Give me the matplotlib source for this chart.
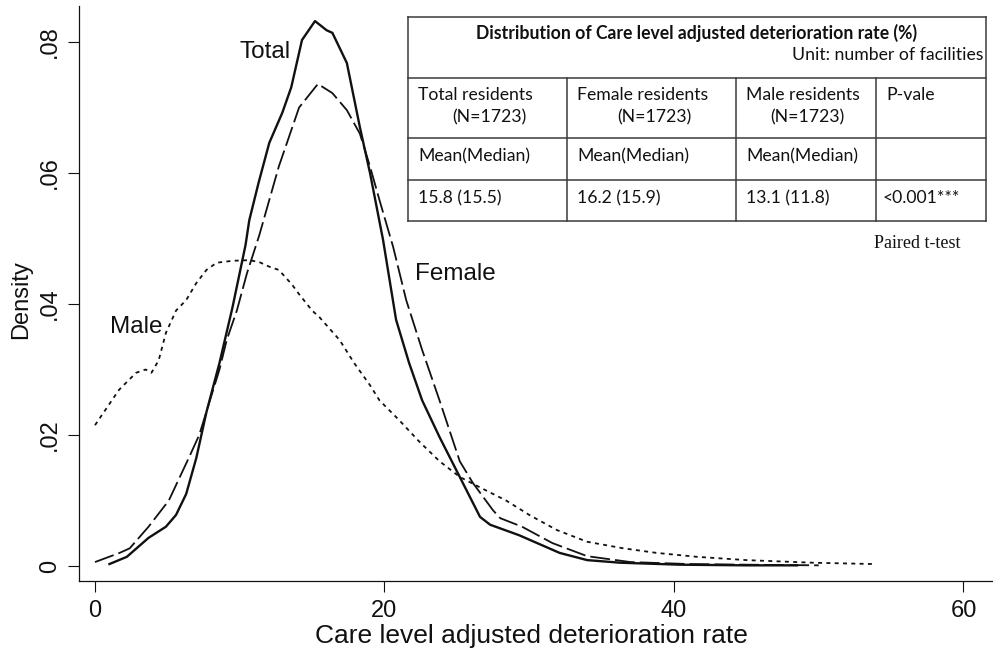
import matplotlib
matplotlib.use("Agg")
import matplotlib.pyplot as plt
from matplotlib.ticker import FuncFormatter

# density curves
total_x = [1.0, 2.2, 3.7, 4.9, 5.6, 6.3, 7.0, 7.7, 8.6, 9.5, 10.4, 10.66, 11.3, 12.04, 12.94, 13.56,
           14.3, 15.2, 16.0, 16.4, 17.4, 18.3, 19.0, 19.9, 20.8, 21.7, 22.6, 23.8, 25.2, 26.6, 27.3,
           29.3, 32.1, 34.0, 36.3, 40.4, 45.0, 48.5]
total_y = [0.0003, 0.0014, 0.0043, 0.006, 0.0078, 0.011, 0.0165, 0.0235, 0.031, 0.0395, 0.049, 0.0528,
           0.0585, 0.0646, 0.0692, 0.0731, 0.0803, 0.0832, 0.0818, 0.0814, 0.0768, 0.067, 0.060, 0.0498,
           0.0376, 0.031, 0.0253, 0.0197, 0.0136, 0.0075, 0.0063, 0.0047, 0.002, 0.0009, 0.0005, 0.0002,
           0.0001, 0.0001]

female_x = [0.0, 1.7, 2.4, 3.7, 5.1, 6.5, 7.2, 8.6, 9.1, 9.8, 10.5, 11.35, 12.7, 14.1, 15.4, 16.4, 17.4,
            18.3, 19.0, 19.65, 20.6, 21.5, 22.6, 23.8, 25.2, 26.1, 27.5, 28.0, 29.5, 31.6, 34.0, 37.0,
            41.0, 45.0, 50.0]
female_y = [0.0006, 0.002, 0.0027, 0.006, 0.010, 0.0166, 0.020, 0.030, 0.0345, 0.039, 0.0447, 0.0505,
            0.061, 0.070, 0.0736, 0.0722, 0.0696, 0.066, 0.061, 0.0559, 0.0487, 0.0406, 0.033, 0.0253,
            0.016, 0.0127, 0.0085, 0.0073, 0.006, 0.0035, 0.0015, 0.0006, 0.0003, 0.0002, 0.0001]

male_x = [0.0, 1.66, 2.84, 3.5, 3.9, 4.4, 4.9, 5.6, 6.3, 7.0, 7.7, 8.4, 9.5, 10.66, 11.35, 12.04, 12.7,
          13.6, 14.1, 15.0, 15.5, 16.9, 17.9, 19.0, 19.65, 21.0, 22.4, 23.8, 25.2, 26.6, 28.4, 30.0,
          31.9, 34.0, 36.5, 38.8, 41.6, 45.0, 49.6, 53.8]
male_y = [0.0215, 0.0269, 0.0295, 0.030, 0.0295, 0.0314, 0.0356, 0.039, 0.0406, 0.0432, 0.0452, 0.0463,
          0.0466, 0.0467, 0.0464, 0.0457, 0.0452, 0.043, 0.0415, 0.039, 0.038, 0.0345, 0.031, 0.0276,
          0.0253, 0.0223, 0.019, 0.016, 0.0136, 0.012, 0.010, 0.0078, 0.0055, 0.0037, 0.0027, 0.002,
          0.0014, 0.0009, 0.0005, 0.0003]

curve_labels = ["Total", "Female", "Male"]
label_pos = [(11.74, 0.0785), (24.9, 0.0446), (2.83, 0.0365)]

# table contents
table_title = "Distribution of Care level adjusted deterioration rate (%)"
table_unit = "Unit: number of facilities"
col_heads = ["Total residents", "Female residents", "Male residents", "P-vale"]
n_labels = ["(N=1723)", "(N=1723)", "(N=1723)", ""]
stat_labels = ["Mean(Median)", "Mean(Median)", "Mean(Median)", ""]
values = ["15.8 (15.5)", "16.2 (15.9)", "13.1 (11.8)", "<0.001***"]
test_note = "Paired t-test"

plt.rcParams["font.family"] = ["Liberation Sans", "DejaVu Sans"]

fig = plt.figure(figsize=(9.93, 6.53), dpi=100)
W, H = 993, 653
ax = fig.add_axes([79 / W, (H - 581) / H, (W - 79) / W, 575 / H])

ink = "#111111"
ax.plot(total_x, total_y, color=ink, lw=1.7, solid_joinstyle="round")
ax.plot(female_x, female_y, color=ink, lw=1.3, dashes=(11, 2.8))
ax.plot(male_x, male_y, color=ink, lw=1.3, dashes=(2.2, 2.4))

for name, (lx, ly) in zip(curve_labels, label_pos):
    ax.text(lx, ly, name, fontsize=17.5, ha="center", va="center", color=ink)

ax.set_xlim(-1.105, 62.04)
ax.set_ylim(-0.00229, 0.0855)
ax.set_xticks([0, 20, 40, 60])
ax.set_yticks([0, 0.02, 0.04, 0.06, 0.08])
ax.yaxis.set_major_formatter(FuncFormatter(lambda v, p: "0" if abs(v) < 1e-9 else f"{v:.2f}".lstrip("0")))
ax.tick_params(direction="out", length=8, width=0.8, pad=6, labelsize=17, colors=ink)
ax.tick_params(axis="y", pad=5)
for lab in ax.get_yticklabels():
    lab.set_rotation(90)
    lab.set_va("center")
for s in ["top", "right"]:
    ax.spines[s].set_visible(False)
for s in ["left", "bottom"]:
    ax.spines[s].set_linewidth(0.9)
    ax.spines[s].set_color(ink)

ax.set_xlabel("Care level adjusted deterioration rate", fontsize=19, color=ink)
ax.set_ylabel("Density", fontsize=17, color=ink)
ax.xaxis.set_label_coords(0.495, -0.074)
ax.yaxis.set_label_coords(-0.051, 0.49)

# table overlay in pixel coords
ov = fig.add_axes([0, 0, 1, 1])
ov.set_xlim(0, W)
ov.set_ylim(H, 0)
ov.axis("off")
tl, tr = 408, 986
rows = [17, 78, 138, 180, 221]
cols = [408, 567, 736, 876]
lc = "#3a3a3a"
for r in rows:
    ov.plot([tl, tr], [r, r], color=lc, lw=1.1)
ov.plot([tl, tl], [rows[0], rows[-1]], color=lc, lw=1.1)
ov.plot([tr, tr], [rows[0], rows[-1]], color=lc, lw=1.1)
for c in cols[1:]:
    ov.plot([c, c], [rows[1], rows[-1]], color=lc, lw=1.1)

tf = ["Lato", "DejaVu Sans"]
fs = 12.7
ov.text((tl + tr) / 2, 33, table_title, family=tf, fontsize=12.7, fontweight="bold", ha="center", va="center", color=ink)
ov.text(983, 55, table_unit, family=tf, fontsize=fs, ha="right", va="center", color=ink)
n_off = [34, 40, 24, 0]
for i, c in enumerate(cols):
    ov.text(c + 10, 95, col_heads[i], family=tf, fontsize=fs, ha="left", va="center", color=ink)
    ov.text(c + 10 + n_off[i], 117, n_labels[i], family=tf, fontsize=fs, ha="left", va="center", color=ink)
    ov.text(c + 10, 156, stat_labels[i], family=tf, fontsize=fs, ha="left", va="center", color=ink)
    ov.text(c + 7 if i == 3 else c + 10, 198, values[i], family=tf, fontsize=fs, ha="left", va="center", color=ink)
ov.text(960, 243, test_note, family=["Liberation Serif", "DejaVu Serif"], fontsize=13, ha="right", va="center", color=ink)

fig.savefig("out.png", dpi=100)
